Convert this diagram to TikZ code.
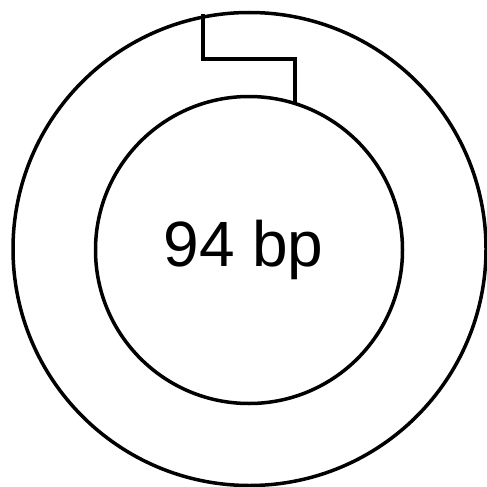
\documentclass[tikz,border=0pt]{standalone}
\usepackage{fontspec}
\setmainfont{Liberation Sans}
\begin{document}
\begin{tikzpicture}[x=1pt,y=-1pt,
  ring/.style={draw=black,line width=3.5pt,circle,inner sep=0pt},
  link/.style={draw=black,line width=3.5pt}]
\useasboundingbox (0,0) rectangle (487,487);
\node[ring,minimum size=473pt] (outer) at (249.5,249) {};
\node[ring,minimum size=307pt] (inner) at (249,250) {};
\node[anchor=base,font=\fontsize{64}{70}\selectfont,inner sep=0pt] (label) at (243.5,266) {94 bp};
\coordinate (top) at (203,14);
\coordinate (bot) at (295,102);
\draw[link] (top) |- (249,59) -| (bot);
\end{tikzpicture}
\end{document}
